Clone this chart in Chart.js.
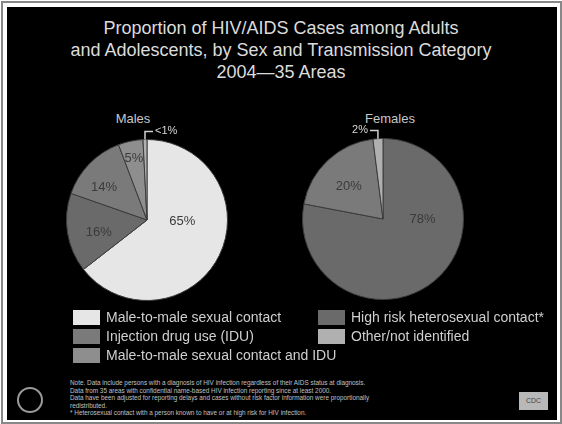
<!DOCTYPE html>
<html>
<head>
<meta charset="utf-8">
<script src="https://cdn.jsdelivr.net/npm/chart.js@4"></script>
<style>
  html, body { margin: 0; padding: 0; background: #fff; }
  #frame { position: absolute; left: 1px; top: 1px; width: 557px; height: 419px; border: 2px solid #888; background: #fff; }
  #panel { position: absolute; left: 7px; top: 7px; width: 550px; height: 413px; background: #000; }
  .txt { position: absolute; color: #dcdcdc; font-family: "Liberation Sans", Arial, sans-serif; white-space: nowrap; }
  #title { left: 0; width: 562px; top: 17px; text-align: center; font-size: 18px; line-height: 22px; }
  .sub { font-size: 13px; top: 111px; transform: translateX(-50%); color: #c8c8c8; }
  canvas { position: absolute; }
  #legend { left: 73px; top: 310px; width: 480px; height: 60px; }
  .item { position: absolute; font-size: 14px; color: #cfcfcf; line-height: 15px; }
  .item span.sw { display: inline-block; width: 27px; height: 15px; vertical-align: top; margin-right: 6px; }
  #notes { left: 70px; top: 379px; font-size: 6.4px; line-height: 7.5px; color: #c0c0c0; }
  #cdc { left: 519px; top: 392px; width: 29px; height: 18px; background: #b8b8b8; color: #444; font-size: 7px; text-align: center; line-height: 18px; }
  #seal { position: absolute; left: 17px; top: 387px; width: 22px; height: 22px; border: 2px solid #9a9a9a; border-radius: 50%; }
</style>
</head>
<body>
<div id="frame"></div>
<div id="panel"></div>
<div class="txt" id="title">Proportion of HIV/AIDS Cases among Adults<br>and Adolescents, by Sex and Transmission Category<br>2004—35 Areas</div>
<div class="txt sub" style="left:133px">Males</div>
<div class="txt sub" style="left:390px">Females</div>
<canvas id="male" width="240" height="240" style="left:27px; top:100px"></canvas>
<canvas id="female" width="240" height="240" style="left:263px; top:99px"></canvas>
<div class="txt" id="legend"></div>
<div class="txt" id="notes">Note. Data include persons with a diagnosis of HIV infection regardless of their AIDS status at diagnosis.<br>Data from 35 areas with confidential name-based HIV infection reporting since at least 2000.<br>Data have been adjusted for reporting delays and cases without risk factor information were proportionally<br>redistributed.<br>* Heterosexual contact with a person known to have or at high risk for HIV infection.</div>
<div id="seal"></div>
<div class="txt" id="cdc">CDC</div>
<script>
// categories and colours
const categories = [
  "Male-to-male sexual contact",
  "Injection drug use (IDU)",
  "Male-to-male sexual contact and IDU",
  "High risk heterosexual contact*",
  "Other/not identified",
];
const catColors = ["#e6e6e6", "#7a7a7a", "#8e8e8e", "#6a6a6a", "#b0b0b0"];

// males, clockwise from 12 o'clock
const maleCats = [0, 3, 1, 2, 4];
const maleValues = [65, 16, 14, 5, 0.8];
const maleText = ["65%", "16%", "14%", "5%", "<1%"];

// females, clockwise from 12 o'clock
const femaleCats = [3, 1, 4];
const femaleValues = [78, 20, 2];
const femaleText = ["78%", "20%", "2%"];

// label placement: [angle deg clockwise from top, radius fraction] or callout side
const malePlace = [[93, 0.44], [255, 0.62], [307, 0.67], [348, 0.78], { side: 1 }];
const femalePlace = [[91, 0.49], [314, 0.59], { side: -1 }];

const pctLabels = {
  id: "pctLabels",
  afterDatasetsDraw(chart, args, opts) {
    const ctx = chart.ctx;
    const arcs = chart.getDatasetMeta(0).data;
    ctx.save();
    ctx.textBaseline = "middle";
    arcs.forEach((arc, i) => {
      const p = opts.place[i];
      const txt = opts.text[i];
      if (Array.isArray(p)) {
        const a = (p[0] - 90) * Math.PI / 180;
        const r = arc.outerRadius * p[1];
        ctx.font = "13px 'Liberation Sans', Arial, sans-serif";
        ctx.fillStyle = "#3a3a3a";
        ctx.textAlign = "center";
        ctx.fillText(txt, arc.x + r * Math.cos(a), arc.y + r * Math.sin(a));
      } else {
        // small slice: callout line up and sideways
        const mid = (arc.startAngle + arc.endAngle) / 2;
        const x0 = arc.x + arc.outerRadius * Math.cos(mid);
        const y0 = arc.y + arc.outerRadius * Math.sin(mid);
        const yl = arc.y - arc.outerRadius - 8;
        const x1 = x0 + p.side * 8;
        ctx.strokeStyle = "#d0d0d0";
        ctx.lineWidth = 1.5;
        ctx.beginPath();
        ctx.moveTo(x0, y0);
        ctx.lineTo(x0, yl);
        ctx.lineTo(x1, yl);
        ctx.stroke();
        ctx.fillStyle = "#d8d8d8";
        ctx.font = "11px 'Liberation Sans', Arial, sans-serif";
        ctx.textAlign = p.side > 0 ? "left" : "right";
        ctx.fillText(txt, x1 + p.side * 2, yl - 1);
      }
    });
    ctx.restore();
  },
};

function makePie(id, cats, values, text, place) {
  return new Chart(document.getElementById(id), {
    type: "pie",
    data: {
      labels: cats.map((c) => categories[c]),
      datasets: [{
        data: values,
        backgroundColor: cats.map((c) => catColors[c]),
        borderColor: "#3c3c3c",
        borderWidth: 1,
      }],
    },
    options: {
      responsive: false,
      animation: false,
      layout: { padding: 39 },
      plugins: {
        legend: { display: false },
        tooltip: { enabled: false },
        pctLabels: { text: text, place: place },
      },
    },
    plugins: [pctLabels],
  });
}

makePie("male", maleCats, maleValues, maleText, malePlace);
makePie("female", femaleCats, femaleValues, femaleText, femalePlace);

// shared legend, two columns
const legendCols = [[0, 1, 2], [3, 4]];
const legend = document.getElementById("legend");
legendCols.forEach((col, ci) => {
  col.forEach((c, ri) => {
    const d = document.createElement("div");
    d.className = "item";
    d.style.left = (ci * 245) + "px";
    d.style.top = (ri * 19) + "px";
    d.innerHTML = '<span class="sw" style="background:' + catColors[c] + '"></span>' + categories[c];
    legend.appendChild(d);
  });
});
</script>
</body>
</html>
